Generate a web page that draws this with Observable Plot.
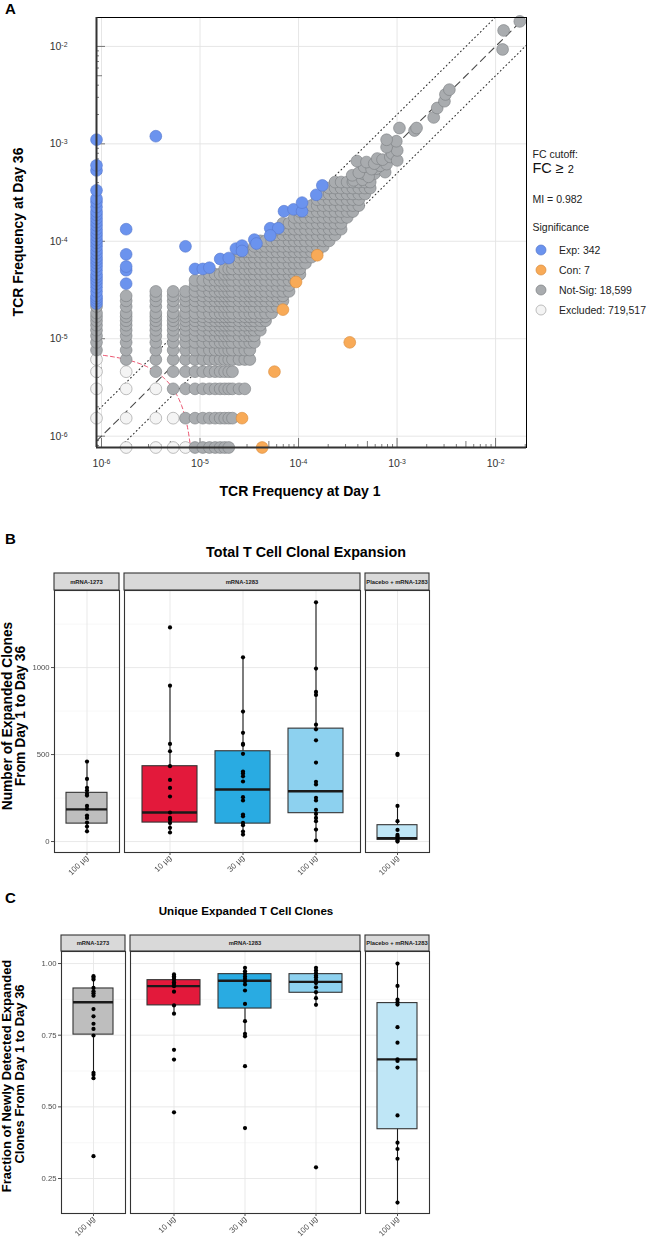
<!DOCTYPE html>
<html lang="en">
<head>
<meta charset="utf-8">
<title>TCR clonal expansion</title>
<script src="https://cdn.jsdelivr.net/npm/d3@7"></script>
<script src="https://cdn.jsdelivr.net/npm/@observablehq/plot@0.6"></script>
<style>
  html, body { margin: 0; padding: 0; background: #fff; }
  #page { position: relative; width: 649px; height: 1243px; overflow: hidden; background: #fff;
          font-family: "Liberation Sans", Arial, Helvetica, sans-serif; }
</style>
</head>
<body>
<div id="page"></div>
<svg width="0" height="0" style="position:absolute">
  <filter id="gray"><feColorMatrix type="saturate" values="0"/></filter>
</svg>
<script>
// ================= DATA : panel A (TCR frequency scatter) =================
const unitDay1 = 1.78e-6;      // frequency of one clone count at Day 1
const unitDay36 = 1.53e-6;     // frequency of one clone count at Day 36
const axisMaxDay1 = 0.0206;
const axisMaxDay36 = 0.0198;
const fcCutoff = 2;
const minTotalCount = 5;       // exclusion boundary (Day1 + Day36 counts)
const decadeTicks = [1e-6, 1e-5, 1e-4, 1e-3, 1e-2];
// discrete count levels used to read the dense not-significant cloud
const countLevels = [0.5,1,2,3,4,5,6,7,8,9,10,11,12,14,16,18,20,23,26,30,34,39,45,51,58,66,76,87,100,115,132,152,175,200,230,265,300];
// [Day36 count, min Day1 count, max Day1 count] of the grey cloud per row
const notSigRows = [
  [0.5,5,11],[1,4,12],[2,3,16],[3,2,12],[4,1,18],[5,0.5,18],[6,0.5,20],[7,0.5,20],
  [8,0.5,23],[9,0.5,23],[10,0.5,26],[11,0.5,26],[12,0.5,30],[14,0.5,34],[16,1,39],
  [18,1,39],[20,2,45],[23,5,45],[26,5,51],[30,7,58],[34,10,58],[39,12,66],[45,14,76],
  [51,14,87],[58,20,100],[66,23,115],[76,30,132],[87,34,152],[100,39,152],[115,51,175],
  [132,58,200],[152,76,230],[175,87,230],[200,100,265],[230,115,300],[265,132,300]
];
// sparse grey points [Day1 count, Day36 count]
const notSigExtra = [
  [204,276],[250,280],[197,311],[255,323],[331,323],[425,335],[289,300],[347,364],[230,330],
  [260,380],[310,360],[380,390],[220,435],[275,425],[330,410],[354,462],[440,405],[400,450],
  [480,480],[500,520],[564,442],[564,560],[440,605],[552,695],[440,720],[594,950],[846,895],
  [886,950],[1323,1220],[1437,1525],[1700,1790],[1740,2100],[1908,2352],[6620,6080],
  [6780,9530],[9900,11800]
];
// expanded clones absent at Day 1 (Day36 counts)
const expAtZeroDay1 = [15,16,17,18,20,22,24,26,28,30,33,36,39,42,45,49,53,58,63,68,74,80,87,95,103,112,122,132,147,165,179,218,349,393,721];
const expPoints = [
  [1,24],[1,33],[1,36],[1,48],[1,87],[2,783],[4,58],[5,34],[6,34],[7,35],[9,43],[11,44],
  [13,55],[15,59],[15,52],[20,68],[21,62],[29,89],[35,89],[29,75],[40,133],[50,139],
  [61,133],[61,163],[85,196],[98,245]
];
const conPoints = [[24,0.5],[15,1],[32,3],[39,13],[53,25],[87,47],[186,6]];
const excludedPoints = [[0.5,1],[0.5,2],[0.5,3],[0.5,4],[1,0.5],[1,1],[1,2],[1,3],[2,0.5],[2,1],[2,2],[3,0.5],[3,1],[4,0.5]];

const legendLabels = ["Exp: 342", "Con: 7", "Not-Sig: 18,599", "Excluded: 719,517"];
const legendFills = ["#6b93ee", "#f8aa57", "#a9acaf", "#f4f4f4"];
const legendStrokes = ["#5577cc", "#d98b3c", "#7b7e81", "#a3a3a3"];
const fcText = "FC cutoff:";
const miText = "MI = 0.982";
const legendTitle = "Significance";

// ================= DATA : panels B & C (box plots) =================
const facetNames = ["mRNA-1273", "mRNA-1283", "Placebo + mRNA-1283"];
const facetGroups = [[0], [1, 2, 3], [4]];
const groupDose = ["100 µg", "10 µg", "30 µg", "100 µg", "100 µg"];
const groupColors = ["#bebebe", "#e3193b", "#29abe2", "#8dd1ef", "#bfe6f6"];

const clonesQ1 = [103, 109, 103, 163, 10];
const clonesMedian = [185, 167, 299, 289, 19];
const clonesQ3 = [280, 433, 519, 649, 94];
const clonesLow = [59, 52, 40, 6, 0];
const clonesHigh = [460, 896, 1059, 1375, 205];
const clonesPoints = [
  [460,360,309,293,274,264,205,188,149,136,109,86,59],
  [1231,896,561,519,433,354,308,259,167,136,125,107,79,52],
  [1059,747,625,561,556,504,402,391,375,345,255,236,155,145,107,94,57,40],
  [1375,994,860,843,672,645,582,454,343,328,251,236,182,159,136,117,69,6],
  [504,498,205,117,67,38,29,19,6,0]
];
const clonesTicks = [0, 500, 1000];
const clonesMinorTicks = [250, 750, 1250];

const fracQ1 = [0.752, 0.854, 0.843, 0.898, 0.422];
const fracMedian = [0.865, 0.921, 0.940, 0.936, 0.666];
const fracQ3 = [0.913, 0.942, 0.963, 0.963, 0.862];
const fracLow = [0.600, 0.825, 0.746, 0.856, 0.166];
const fracHigh = [0.956, 0.962, 0.985, 0.985, 1.0];
const fracPoints = [
  [0.956,0.950,0.944,0.915,0.903,0.896,0.888,0.841,0.816,0.790,0.772,0.749,0.619,0.612,0.600,0.328],
  [0.962,0.956,0.950,0.944,0.935,0.929,0.921,0.902,0.854,0.825,0.699,0.665,0.481],
  [0.985,0.973,0.964,0.955,0.947,0.938,0.927,0.906,0.859,0.799,0.755,0.746,0.642,0.426],
  [0.985,0.976,0.967,0.958,0.952,0.943,0.932,0.917,0.900,0.879,0.856,0.289],
  [1.0,0.922,0.874,0.865,0.857,0.778,0.724,0.666,0.660,0.637,0.470,0.375,0.353,0.319,0.166]
];
const fracTicks = [0.25, 0.50, 0.75, 1.00];
const fracMinorTicks = [0.375, 0.625, 0.875];

const titleB = "Total T Cell Clonal Expansion";
const titleC = "Unique Expanded T Cell Clones";
const yTitleB = ["Number of Expanded Clones", "From Day 1 to Day 36"];
const yTitleC = ["Fraction of Newly Detected Expanded", "Clones From Day 1 to Day 36"];
const xTitleA = "TCR Frequency at Day 1";
const yTitleA = "TCR Frequency at Day 36";

// ================= RENDERING =================
const FONT = '"Liberation Sans", Arial, Helvetica, sans-serif';
const page = document.getElementById("page");
function place(svg, left, top) {
  svg.style.position = "absolute";
  svg.style.left = left + "px";
  svg.style.top = top + "px";
  svg.style.maxWidth = "none";
  svg.style.background = "transparent";
  page.appendChild(svg);
}

// ---- panel A ----
const freqPoint = ([c, r]) => ({x: c * unitDay1, y: r * unitDay36});
const notSigData = [];
for (const [r, cMin, cMax] of notSigRows)
  for (const c of countLevels) if (c >= cMin && c <= cMax) notSigData.push(freqPoint([c, r]));
for (const p of notSigExtra) notSigData.push(freqPoint(p));
const expData = expAtZeroDay1.map(r => freqPoint([0.5, r])).concat(expPoints.map(freqPoint));
const conData = conPoints.map(freqPoint);
const excludedData = excludedPoints.map(freqPoint);

const xDom = [0.5 * unitDay1, axisMaxDay1];
const yDom = [0.5 * unitDay36, axisMaxDay36];
const A = {width: 649, height: 500, left: 96, top: 17, right: 123, bottom: 53};
const frameW = A.width - A.left - A.right, frameH = A.height - A.top - A.bottom;

function logTicks(dom) {
  const out = [];
  for (let k = -7; k <= -1; k++) for (let m = 1; m <= 9; m++) {
    const v = m * Math.pow(10, k);
    if (v >= dom[0] && v <= dom[1]) out.push({v, len: m === 1 ? 9 : m === 5 ? 6 : 3});
  }
  return out;
}
const xLog = logTicks(xDom), yLog = logTicks(yDom);
const tickMarks = [];
for (const L of [3, 6, 9]) {
  tickMarks.push(Plot.ruleX(xLog.filter(d => d.len === L), {x: "v", insetTop: frameH - L, stroke: "#444", strokeWidth: 0.7}));
  tickMarks.push(Plot.ruleY(yLog.filter(d => d.len === L), {y: "v", insetRight: frameW - L, stroke: "#444", strokeWidth: 0.7}));
}
const diagLine = xDom.map(v => ({x: v, y: v}));
const upperFC = xDom.map(v => ({x: v, y: v * fcCutoff}));
const lowerFC = xDom.map(v => ({x: v, y: v / fcCutoff}));
const exclusionCurve = d3.range(0.5, minTotalCount - 0.5 + 1e-9, 0.05).map(c => ({x: c * unitDay1, y: (minTotalCount - c) * unitDay36}));
const sciLabel = d => "10^" + Math.round(Math.log10(d));
const DOT_R = 5.9;

const plotA = Plot.plot({
  width: A.width, height: A.height,
  marginLeft: A.left, marginTop: A.top, marginRight: A.right, marginBottom: A.bottom,
  style: {fontFamily: FONT, background: "transparent", overflow: "visible"},
  x: {type: "log", domain: xDom, axis: null},
  y: {type: "log", domain: yDom, axis: null},
  marks: [
    Plot.ruleX(decadeTicks, {stroke: "#e3e3e3", strokeWidth: 0.9}),
    Plot.ruleY(decadeTicks, {stroke: "#e3e3e3", strokeWidth: 0.9}),
    ...tickMarks,
    Plot.line(exclusionCurve, {x: "x", y: "y", stroke: "#ec5570", strokeWidth: 1, strokeDasharray: "4,3", clip: true}),
    Plot.line(diagLine, {x: "x", y: "y", stroke: "#4a4a4a", strokeWidth: 1.1, strokeDasharray: "7,5", clip: true}),
    Plot.line(upperFC, {x: "x", y: "y", stroke: "#333", strokeWidth: 1.1, strokeDasharray: "0.8,3.2", strokeLinecap: "round", clip: true}),
    Plot.line(lowerFC, {x: "x", y: "y", stroke: "#333", strokeWidth: 1.1, strokeDasharray: "0.8,3.2", strokeLinecap: "round", clip: true}),
    Plot.dot(excludedData, {x: "x", y: "y", r: DOT_R, fill: legendFills[3], stroke: legendStrokes[3], strokeWidth: 0.7}),
    Plot.dot(notSigData, {x: "x", y: "y", r: DOT_R, fill: legendFills[2], stroke: legendStrokes[2], strokeWidth: 0.6}),
    Plot.dot(conData, {x: "x", y: "y", r: DOT_R, fill: legendFills[1], stroke: legendStrokes[1], strokeWidth: 0.6}),
    Plot.dot(expData, {x: "x", y: "y", r: DOT_R, fill: legendFills[0], stroke: legendStrokes[0], strokeWidth: 0.6}),
    Plot.frame({stroke: "#000", strokeWidth: 1}),
    Plot.ruleX([xDom[0]], {stroke: "#333", strokeWidth: 2}),
    Plot.ruleY([yDom[0]], {stroke: "#333", strokeWidth: 2}),
    Plot.axisX({ticks: decadeTicks, tickSize: 0, tickPadding: 12, tickFormat: sciLabel, fontSize: 10.5, color: "#333", label: null}),
    Plot.axisY({ticks: decadeTicks, tickSize: 0, tickPadding: 29, tickFormat: sciLabel, fontSize: 10.5, color: "#333", label: null})
  ]
});
// superscript exponents
plotA.querySelectorAll("text").forEach(t => {
  const m = /^10\^(-?\d+)$/.exec(t.textContent.trim());
  if (!m) return;
  t.textContent = "";
  const ns = "http://www.w3.org/2000/svg";
  const base = document.createElementNS(ns, "tspan"); base.textContent = "10";
  const sup = document.createElementNS(ns, "tspan");
  sup.setAttribute("dy", "-0.42em"); sup.setAttribute("font-size", "0.66em"); sup.textContent = m[1];
  t.append(base, sup);
});
place(plotA, 0, 0);

// ---- panels B and C ----
const specB = {stripTop: 573, top: 590, bottom: 852, facets: [[54, 119], [124, 360], [365, 429]],
  domain: [-63, 1443], major: clonesTicks, minor: clonesMinorTicks, format: d => String(d),
  q1: clonesQ1, med: clonesMedian, q3: clonesQ3, lo: clonesLow, hi: clonesHigh, points: clonesPoints};
const specC = {stripTop: 935, top: 951, bottom: 1213, facets: [[61, 125], [130, 360], [365, 429]],
  domain: [0.128, 1.042], major: fracTicks, minor: fracMinorTicks, format: d3.format(".2f"),
  q1: fracQ1, med: fracMedian, q3: fracQ3, lo: fracLow, hi: fracHigh, points: fracPoints};

function drawFacet(spec, fi) {
  const [x0, x1] = spec.facets[fi];
  const idx = facetGroups[fi];
  const showY = fi === 0;
  const mL = showY ? x0 : 4, mR = 4, mT = 4, mB = 50;
  const rows = idx.map(i => ({g: groupDose[i], color: groupColors[i], q1: spec.q1[i], med: spec.med[i], q3: spec.q3[i], lo: spec.lo[i], hi: spec.hi[i]}));
  const dots = idx.flatMap(i => spec.points[i].map(v => ({g: groupDose[i], v})));
  const svg = Plot.plot({
    width: mL + (x1 - x0) + mR, height: mT + (spec.bottom - spec.top) + mB,
    marginLeft: mL, marginRight: mR, marginTop: mT, marginBottom: mB,
    style: {fontFamily: FONT, background: "transparent", overflow: "visible"},
    x: {type: "band", domain: rows.map(d => d.g), paddingInner: 0.25, paddingOuter: 0.225, axis: null},
    y: {domain: spec.domain, axis: null},
    marks: [
      Plot.ruleY(spec.minor, {stroke: "#f2f2f2", strokeWidth: 0.6}),
      Plot.ruleY(spec.major, {stroke: "#e6e6e6", strokeWidth: 0.9}),
      Plot.ruleX(rows, {x: "g", stroke: "#e6e6e6", strokeWidth: 0.9}),
      Plot.ruleX(rows, {x: "g", y1: "lo", y2: "hi", stroke: "#1a1a1a", strokeWidth: 1.1}),
      ...rows.map(r => Plot.barY([r], {x: "g", y1: "q1", y2: "q3", fill: r.color, stroke: "#333", strokeWidth: 1.1})),
      Plot.tickY(rows, {x: "g", y: "med", stroke: "#1a1a1a", strokeWidth: 2.3}),
      Plot.dot(dots, {x: "g", y: "v", r: 2.1, fill: "#000"}),
      Plot.frame({stroke: "#333", strokeWidth: 1.1}),
      Plot.axisX({tickRotate: -45, tickSize: 3, tickPadding: 1, fontSize: 8, color: "#4d4d4d", label: null}),
      ...(showY ? [Plot.axisY({ticks: spec.major, tickSize: 3, tickPadding: 2, fontSize: 7.7, tickFormat: spec.format, color: "#4d4d4d", label: null})] : [])
    ]
  });
  svg.querySelectorAll('g[aria-label$="tick label"]').forEach(g => g.setAttribute("filter", "url(#gray)"));
  place(svg, x0 - mL, spec.top - mT);
}
for (const spec of [specB, specC]) for (let fi = 0; fi < 3; fi++) drawFacet(spec, fi);

// ---- overlay texts, strips and legend ----
function txt(x, y, s, o = {}) {
  return `<text x="${x}" y="${y}" font-size="${o.size || 10}" font-weight="${o.bold ? "bold" : "normal"}" text-anchor="${o.anchor || "start"}" fill="${o.fill || "#000"}"${o.transform ? ` transform="${o.transform}"` : ""}>${s}</text>`;
}
function rot(x, y, s, size) {
  return txt(0, 0, s, {size, bold: true, anchor: "middle", transform: `translate(${x},${y}) rotate(-90)`});
}
let ov = "";
ov += txt(5, 14, "A", {size: 15, bold: true});
ov += rot(23, 232, yTitleA, 14);
ov += txt(300, 495.5, xTitleA, {size: 14, bold: true, anchor: "middle"});
// legend
ov += txt(532.5, 157.5, fcText, {size: 10.5, fill: "#222"});
ov += `<text x="532.5" y="172.5" font-size="14.5" fill="#111">FC ≥ <tspan font-size="11">2</tspan></text>`;
ov += txt(532.5, 203, miText, {size: 10.5, fill: "#222"});
ov += txt(532.5, 231, legendTitle, {size: 10.5, fill: "#222"});
legendLabels.forEach((lab, i) => {
  const cy = 250 + i * 20;
  ov += `<circle cx="541" cy="${cy}" r="5" fill="${legendFills[i]}" stroke="${legendStrokes[i]}" stroke-width="0.7"/>`;
  ov += txt(559, cy + 3.8, lab, {size: 10.5, fill: "#222"});
});
// panel B
ov += txt(5, 543.5, "B", {size: 15, bold: true});
ov += txt(306, 556.5, titleB, {size: 14.3, bold: true, anchor: "middle"});
ov += rot(12, 716, yTitleB[0], 13.8);
ov += rot(24.5, 716, yTitleB[1], 13.8);
// panel C
ov += txt(5, 903, "C", {size: 15, bold: true});
ov += txt(246, 915, titleC, {size: 11.6, bold: true, anchor: "middle"});
ov += rot(10.8, 1076, yTitleC[0], 13);
ov += rot(23.5, 1074, yTitleC[1], 13);
// strips
for (const spec of [specB, specC]) {
  spec.facets.forEach(([x0, x1], fi) => {
    const h = spec.top - spec.stripTop;
    ov += `<rect x="${x0}" y="${spec.stripTop}" width="${x1 - x0}" height="${h}" fill="#d9d9d9" stroke="#333" stroke-width="1.1"/>`;
    ov += txt((x0 + x1) / 2, spec.stripTop + h / 2 + 2, facetNames[fi], {size: 5.8, bold: true, anchor: "middle", fill: "#1a1a1a"});
  });
}
page.insertAdjacentHTML("beforeend",
  `<svg width="649" height="1243" style="position:absolute;left:0;top:0;font-family:${FONT.replace(/"/g, "'")}">${ov}</svg>`);
</script>
</body>
</html>
